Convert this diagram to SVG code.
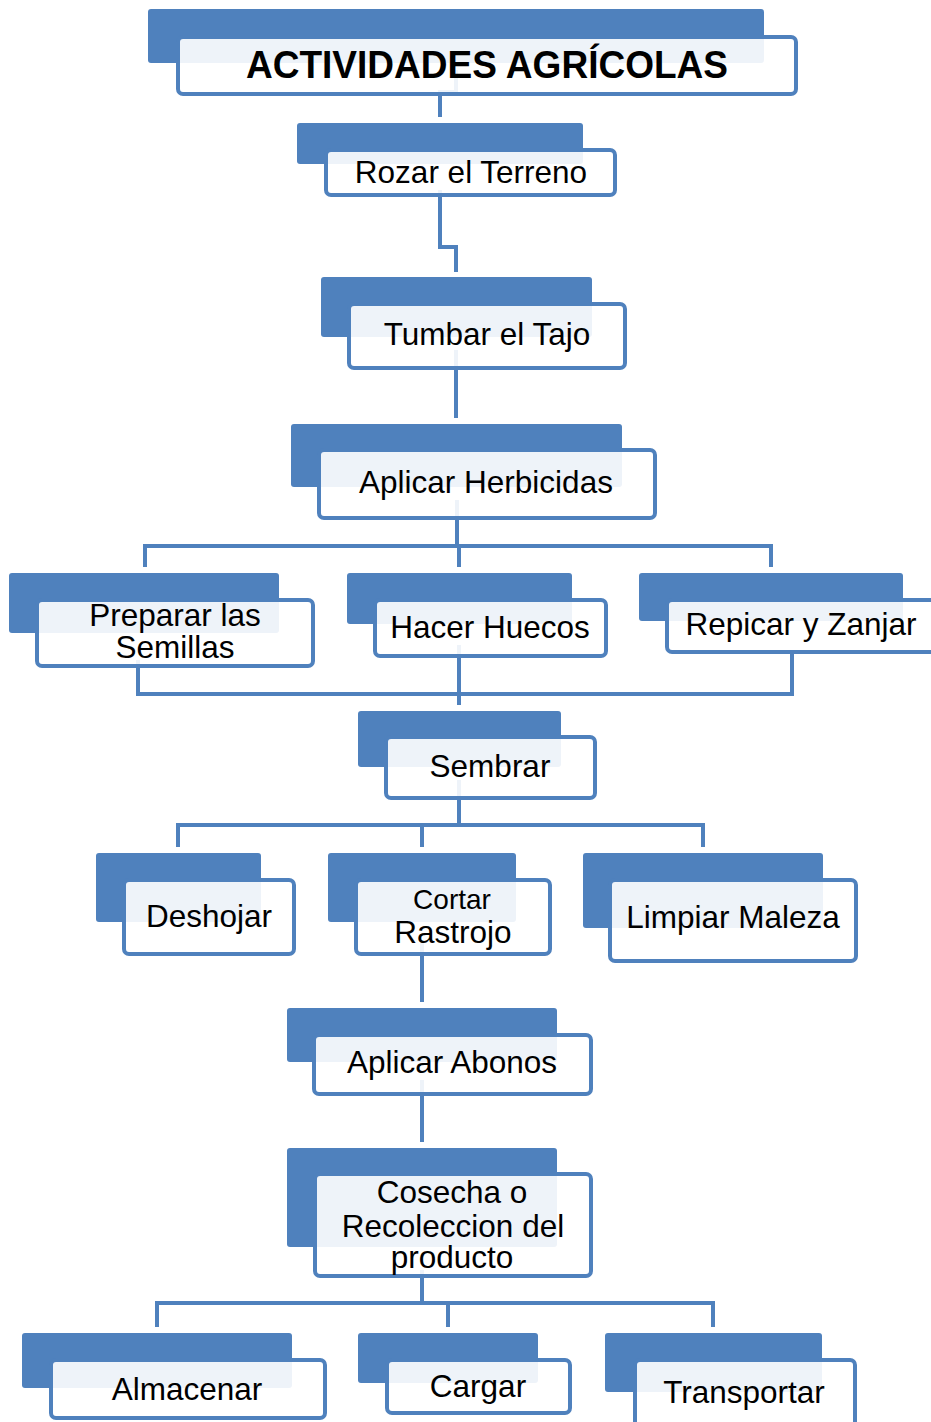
<svg xmlns="http://www.w3.org/2000/svg" width="931" height="1422" viewBox="0 0 931 1422">
<style>
.bk{fill:#4F81BD;}
.fr{fill:#FFFFFF;fill-opacity:0.9;stroke:#4F81BD;stroke-width:4;}
.t{font-family:"Liberation Sans",Arial,sans-serif;font-size:31.5px;fill:#000;text-anchor:middle;}
.tt{font-family:"Liberation Sans",Arial,sans-serif;font-size:39px;font-weight:bold;fill:#000;text-anchor:middle;}
.c{fill:none;stroke:#4F81BD;stroke-width:4;stroke-linejoin:miter;}
</style>
<rect width="931" height="1422" fill="#FFFFFF"/>
<g id="connectors" class="c">
<path d="M456,70 V92 H440 V117"/>
<path d="M440,190 V247 H456 V272"/>
<path d="M456,350 V418"/>
<path d="M457,500 V546"/>
<path d="M145,567 V546 H771 V567"/>
<path d="M459,546 V567"/>
<path d="M138,660 V694 H792 V650"/>
<path d="M459,645 V705"/>
<path d="M459,780 V825"/>
<path d="M178,847 V825 H703 V847"/>
<path d="M422,825 V847"/>
<path d="M422,940 V1002"/>
<path d="M422,1080 V1142"/>
<path d="M422,1270 V1303"/>
<path d="M157,1327 V1303 H713 V1327"/>
<path d="M448,1303 V1327"/>
</g>
<g id="n-title">
<rect class="bk" x="148" y="9" width="616" height="54" rx="3"/>
<rect class="fr" x="178" y="37" width="618" height="57" rx="5"/>
<text class="tt" x="487" y="78" textLength="482" lengthAdjust="spacingAndGlyphs">ACTIVIDADES AGRÍCOLAS</text>
</g>
<g id="n-rozar">
<rect class="bk" x="297" y="123" width="286" height="41" rx="3"/>
<rect class="fr" x="326" y="150" width="289" height="45" rx="5"/>
<text class="t" x="471" y="183">Rozar el Terreno</text>
</g>
<g id="n-tumbar">
<rect class="bk" x="321" y="277" width="271" height="60" rx="3"/>
<rect class="fr" x="349" y="304" width="276" height="64" rx="5"/>
<text class="t" x="487" y="345">Tumbar el Tajo</text>
</g>
<g id="n-herbicidas">
<rect class="bk" x="291" y="424" width="331" height="63" rx="3"/>
<rect class="fr" x="319" y="450" width="336" height="68" rx="5"/>
<text class="t" x="486" y="493">Aplicar Herbicidas</text>
</g>
<g id="n-preparar">
<rect class="bk" x="9" y="573" width="270" height="60" rx="3"/>
<rect class="fr" x="37" y="600" width="276" height="66" rx="5"/>
<text class="t" x="175" y="626">Preparar las</text>
<text class="t" x="175" y="658">Semillas</text>
</g>
<g id="n-hacer">
<rect class="bk" x="347" y="573" width="225" height="51" rx="3"/>
<rect class="fr" x="375" y="600" width="231" height="56" rx="5"/>
<text class="t" x="490" y="638">Hacer Huecos</text>
</g>
<g id="n-repicar">
<rect class="bk" x="639" y="573" width="264" height="48" rx="3"/>
<rect class="fr" x="667" y="600" width="276" height="52" rx="5"/>
<text class="t" x="801" y="635">Repicar y Zanjar</text>
</g>
<g id="n-sembrar">
<rect class="bk" x="358" y="711" width="203" height="56" rx="3"/>
<rect class="fr" x="386" y="737" width="209" height="61" rx="5"/>
<text class="t" x="490" y="777">Sembrar</text>
</g>
<g id="n-deshojar">
<rect class="bk" x="96" y="853" width="165" height="69" rx="3"/>
<rect class="fr" x="124" y="880" width="170" height="74" rx="5"/>
<text class="t" x="209" y="927">Deshojar</text>
</g>
<g id="n-cortar">
<rect class="bk" x="328" y="853" width="188" height="69" rx="3"/>
<rect class="fr" x="356" y="880" width="194" height="74" rx="5"/>
<text class="t" x="452" y="909" style="font-size:28px">Cortar</text>
<text class="t" x="453" y="943">Rastrojo</text>
</g>
<g id="n-limpiar">
<rect class="bk" x="583" y="853" width="240" height="75" rx="3"/>
<rect class="fr" x="610" y="880" width="246" height="81" rx="5"/>
<text class="t" x="733" y="928">Limpiar Maleza</text>
</g>
<g id="n-abonos">
<rect class="bk" x="287" y="1008" width="270" height="54" rx="3"/>
<rect class="fr" x="314" y="1035" width="277" height="59" rx="5"/>
<text class="t" x="452" y="1073">Aplicar Abonos</text>
</g>
<g id="n-cosecha">
<rect class="bk" x="287" y="1148" width="270" height="99" rx="3"/>
<rect class="fr" x="315" y="1174" width="276" height="102" rx="5"/>
<text class="t" x="452" y="1203">Cosecha o</text>
<text class="t" x="453" y="1237">Recoleccion del</text>
<text class="t" x="452" y="1268">producto</text>
</g>
<g id="n-almacenar">
<rect class="bk" x="22" y="1333" width="270" height="55" rx="3"/>
<rect class="fr" x="51" y="1360" width="274" height="58" rx="5"/>
<text class="t" x="187" y="1400">Almacenar</text>
</g>
<g id="n-cargar">
<rect class="bk" x="358" y="1333" width="180" height="50" rx="3"/>
<rect class="fr" x="387" y="1360" width="183" height="53" rx="5"/>
<text class="t" x="478" y="1397">Cargar</text>
</g>
<g id="n-transportar">
<rect class="bk" x="605" y="1333" width="217" height="59" rx="3"/>
<rect class="fr" x="635" y="1360" width="220" height="70" rx="5"/>
<text class="t" x="744" y="1403">Transportar</text>
</g>
</svg>
